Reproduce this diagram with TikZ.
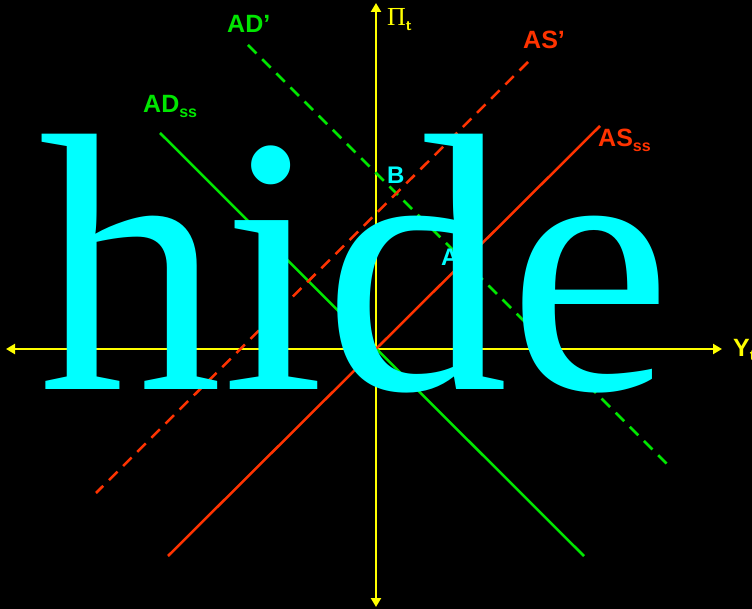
\documentclass[tikz,border=0pt]{standalone}
\usepackage{fontspec}
\setmainfont{Liberation Sans}
\newfontfamily\serifface{Liberation Serif}
\usetikzlibrary{arrows.meta}
\definecolor{axisyellow}{RGB}{255,255,0}
\definecolor{adgreen}{RGB}{0,230,0}
\definecolor{asred}{RGB}{255,51,0}
\definecolor{hidecyan}{RGB}{0,255,255}
\tikzset{
  axis/.style={draw=axisyellow, line width=2.4pt, -{Triangle[length=9pt,width=10pt]}},
  adline/.style={draw=adgreen, line width=2.5pt},
  asline/.style={draw=asred, line width=2.5pt},
  dashedline/.style={dash pattern=on 12pt off 8pt},
  lbl/.style={inner sep=0pt, anchor=base west, font=\fontsize{25}{25}\selectfont\bfseries},
}
\begin{document}
\begin{tikzpicture}[x=1pt,y=-1pt]
\fill[black] (0,0) rectangle (752,609);
\useasboundingbox (0,0) rectangle (752,609);
% axes
\coordinate (o) at (376,349);
\coordinate (yt) at (722,349);
\coordinate (yl) at (6,349);
\coordinate (pt) at (376,3);
\coordinate (pb) at (376,607);
\draw[axis] (o) -- (yt);
\draw[axis] (o) -- (yl);
\draw[axis] (o) -- (pt);
\draw[axis] (o) -- (pb);
% curves
\coordinate (adss1) at (160,133);
\coordinate (adss2) at (584,556);
\coordinate (adp1) at (248,45);
\coordinate (adp2) at (672,469);
\coordinate (asss1) at (600,126);
\coordinate (asss2) at (168,556);
\coordinate (asp1) at (528,62);
\coordinate (asp2) at (96,493);
\draw[adline] (adss1) -- (adss2);
\draw[adline, dashedline] (adp1) -- (adp2);
\draw[asline] (asss1) -- (asss2);
\draw[asline, dashedline] (asp1) -- (asp2);
% labels
\node[lbl, text=adgreen] (lADp) at (227,33) {AD’};
\node[lbl, text=asred] (lASp) at (523,49) {AS’};
\node[lbl, text=adgreen] (lADss) at (143,113) {AD\raisebox{-5pt}{\fontsize{16}{16}\selectfont ss}};
\node[lbl, text=asred] (lASss) at (598,147) {AS\raisebox{-5pt}{\fontsize{16}{16}\selectfont ss}};
\node[inner sep=0pt, anchor=base west, text=axisyellow, font=\serifface\fontsize{26}{26}\selectfont] (lPi) at (387,26) {Π\raisebox{-5pt}{\sffamily\bfseries\fontsize{15}{15}\selectfont t}};
\node[lbl, text=axisyellow] (lY) at (733,356) {Y\raisebox{-5pt}{\fontsize{15}{15}\selectfont t}};
\node[lbl, text=hidecyan, font=\fontsize{24}{24}\selectfont\bfseries] (lB) at (387,184) {B};
\node[lbl, text=hidecyan, font=\fontsize{24}{24}\selectfont\bfseries] (lA) at (441,266) {A};
% overlay text
\node[inner sep=0pt, anchor=base west, text=hidecyan, font=\serifface\fontsize{368}{368}\selectfont] (hide) at (38,389) {hide};
\end{tikzpicture}
\end{document}
